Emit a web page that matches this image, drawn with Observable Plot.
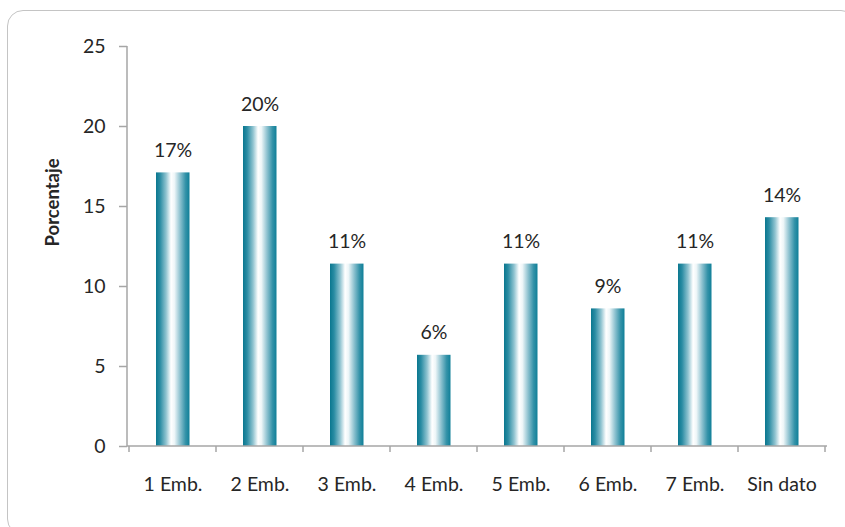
<!DOCTYPE html>
<html>
<head>
<meta charset="utf-8">
<script src="https://cdn.jsdelivr.net/npm/d3@7"></script>
<script src="https://cdn.jsdelivr.net/npm/@observablehq/plot@0.6"></script>
<style>
  html, body { margin: 0; padding: 0; background: #fff; }
  #wrap { position: relative; width: 845px; height: 527px; overflow: hidden; }
  #panel {
    position: absolute; left: 7px; top: 10px; width: 850px; height: 525px;
    border: 1.8px solid #c4c4c4; border-radius: 16px; box-sizing: border-box;
  }
  #chart { position: absolute; left: 0; top: 0; }
</style>
</head>
<body>
<div id="wrap">
  <div id="panel"></div>
  <div id="chart"></div>
</div>
<script>
// Número de embarazos: porcentaje de casos
const categorias = ["1 Emb.", "2 Emb.", "3 Emb.", "4 Emb.", "5 Emb.", "6 Emb.", "7 Emb.", "Sin dato"];
const porcentajes = [17.1, 20.0, 11.4, 5.7, 11.4, 8.6, 11.4, 14.3];
const ticksY = [0, 5, 10, 15, 20, 25];

const datos = categorias.map((c, i) => ({categoria: c, valor: porcentajes[i]}));

const FONT = "Lato, 'Open Sans', sans-serif";
const TEXT = "#262626";
const AXIS = "#a6a6a6";
const ns = "http://www.w3.org/2000/svg";

// cylinder-like horizontal gradient for the bars
function gradientDefs() {
  const defs = document.createElementNS(ns, "defs");
  const g = document.createElementNS(ns, "linearGradient");
  g.setAttribute("id", "barra");
  g.setAttribute("x1", "0"); g.setAttribute("x2", "1");
  g.setAttribute("y1", "0"); g.setAttribute("y2", "0");
  [[0, "#0a778f"], [0.12, "#2a8ca3"], [0.3, "#8fc3d0"], [0.45, "#ffffff"],
   [0.55, "#eef6f8"], [0.72, "#8cc1cf"], [0.88, "#3593a9"], [1, "#0f7f98"]]
    .forEach(([o, c]) => {
      const s = document.createElementNS(ns, "stop");
      s.setAttribute("offset", o);
      s.setAttribute("stop-color", c);
      g.appendChild(s);
    });
  defs.appendChild(g);
  return defs;
}

function line(g, x1, y1, x2, y2) {
  const l = document.createElementNS(ns, "line");
  l.setAttribute("x1", x1); l.setAttribute("x2", x2);
  l.setAttribute("y1", y1); l.setAttribute("y2", y2);
  l.setAttribute("stroke", AXIS);
  l.setAttribute("stroke-width", 1.5);
  g.appendChild(l);
}

// axis lines, plus x-axis tick marks placed on the band boundaries
function axisLines(index, scales, values, dimensions) {
  const x = scales.x;
  const {width, height, marginLeft, marginRight, marginTop, marginBottom} = dimensions;
  const y0 = height - marginBottom;
  const g = document.createElementNS(ns, "g");
  line(g, marginLeft, marginTop, marginLeft, y0);
  line(g, marginLeft, y0, width - marginRight, y0);
  const bw = x.bandwidth();
  const xs = categorias.map((c) => x(c));
  xs.push(x(categorias[categorias.length - 1]) + bw);
  xs.forEach((px) => line(g, px, y0, px, y0 + 6));
  return g;
}

const chart = Plot.plot({
  width: 845,
  height: 527,
  marginLeft: 127,
  marginRight: 18,
  marginTop: 46,
  marginBottom: 81,
  style: {fontFamily: FONT, fontSize: "19px", color: TEXT, background: "transparent"},
  x: {domain: categorias, padding: 0},
  y: {domain: [0, 25]},
  marks: [
    gradientDefs,
    Plot.barY(datos, {x: "categoria", y: "valor", fill: "url(#barra)", insetLeft: 27, insetRight: 26.5}),
    Plot.text(datos, {
      x: "categoria", y: "valor", text: (d) => Math.round(d.valor) + "%",
      lineAnchor: "bottom", dy: -16, fill: TEXT, fontSize: 19.5
    }),
    Plot.axisY({ticks: ticksY, tickSize: 8, tickPadding: 14, stroke: AXIS, strokeWidth: 1.5, label: null, fontSize: 19.5, fill: TEXT}),
    Plot.axisX({tickSize: 0, tickPadding: 31, label: null, fontSize: 19.5, fill: TEXT}),
    axisLines,
    Plot.text(["Porcentaje"], {
      frameAnchor: "left", dx: -74, rotate: -90, text: (d) => d,
      fontWeight: "bold", fontSize: 18.5, fill: TEXT
    })
  ]
});

document.getElementById("chart").appendChild(chart);
</script>
</body>
</html>
